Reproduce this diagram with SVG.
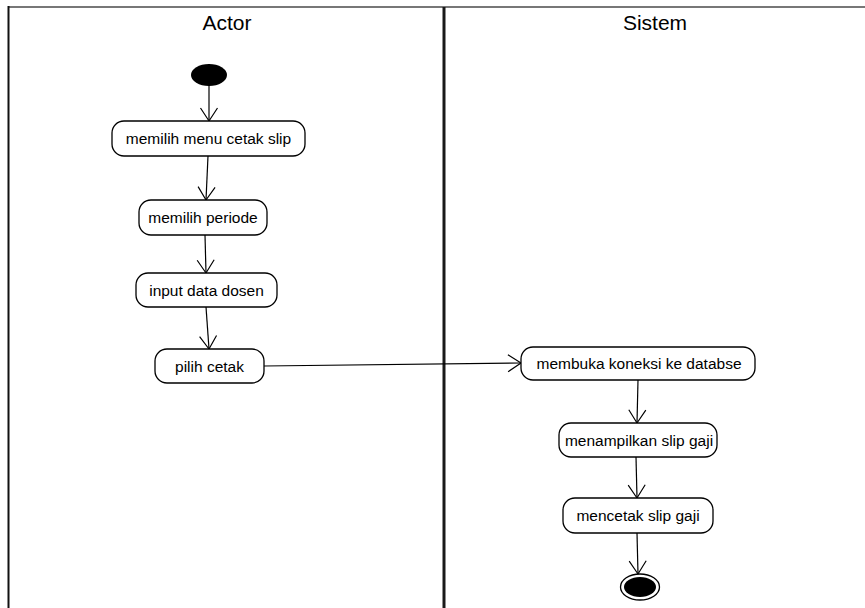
<svg xmlns="http://www.w3.org/2000/svg" width="865" height="608" viewBox="0 0 865 608">
  <style>
    .lane { font-family: "Liberation Sans", Arial, sans-serif; font-size: 21px; fill: #000; text-anchor: middle; }
    .act rect { fill: #fff; stroke: #000; stroke-width: 1.3; }
    .act text { font-family: "Liberation Sans", Arial, sans-serif; font-size: 15.5px; fill: #000; text-anchor: middle; }
    .flow line { stroke: #000; stroke-width: 1.2; fill: none; marker-end: url(#open); }
  </style>
  <defs>
    <marker id="open" markerUnits="userSpaceOnUse" markerWidth="30" markerHeight="30" refX="0" refY="0" viewBox="-15 -15 30 30" orient="auto" overflow="visible">
      <path d="M-13,-8.5 L0,0 L-13,8.5" fill="none" stroke="#000" stroke-width="1.2"/>
    </marker>
  </defs>
  <rect width="865" height="608" fill="#fff"/>

  <!-- swimlane frame -->
  <g id="lanes">
    <line x1="8" y1="7" x2="865" y2="7" stroke="#777" stroke-width="2"/>
    <line x1="8.5" y1="6" x2="8.5" y2="608" stroke="#111" stroke-width="2"/>
    <line x1="444" y1="7" x2="444" y2="608" stroke="#1a1a1a" stroke-width="3"/>
    <text class="lane" x="227" y="30">Actor</text>
    <text class="lane" x="655" y="30">Sistem</text>
  </g>

  <!-- connectors -->
  <g id="connectors" class="flow">
    <line x1="209" y1="86" x2="209" y2="121"/>
    <line x1="208" y1="156" x2="206" y2="200"/>
    <line x1="205" y1="235" x2="206" y2="273"/>
    <line x1="206" y1="307" x2="209" y2="349"/>
    <line x1="264" y1="366" x2="521" y2="363"/>
    <line x1="638" y1="380" x2="637" y2="423"/>
    <line x1="636" y1="457" x2="637" y2="498"/>
    <line x1="637" y1="533" x2="638" y2="574"/>
  </g>

  <g id="start">
    <ellipse cx="209" cy="75" rx="18" ry="11" fill="#000"/>
  </g>

  <g id="a1" class="act">
    <rect x="112" y="121" width="193" height="35" rx="12"/>
    <text x="208.5" y="144">memilih menu cetak slip</text>
  </g>
  <g id="a2" class="act">
    <rect x="139" y="200" width="128" height="35" rx="12"/>
    <text x="203" y="223">memilih periode</text>
  </g>
  <g id="a3" class="act">
    <rect x="136" y="273" width="141" height="34" rx="12"/>
    <text x="206.5" y="295.5">input data dosen</text>
  </g>
  <g id="a4" class="act">
    <rect x="155" y="349" width="109" height="34" rx="12"/>
    <text x="209.5" y="371.5">pilih cetak</text>
  </g>
  <g id="a5" class="act">
    <rect x="521" y="347" width="234" height="33" rx="12"/>
    <text x="639" y="369">membuka koneksi ke databse</text>
  </g>
  <g id="a6" class="act">
    <rect x="559" y="423" width="158" height="34" rx="12"/>
    <text x="639" y="445.5">menampilkan slip gaji</text>
  </g>
  <g id="a7" class="act">
    <rect x="563" y="498" width="150" height="35" rx="12"/>
    <text x="638" y="521">mencetak slip gaji</text>
  </g>

  <g id="end">
    <ellipse cx="640" cy="587" rx="19.5" ry="13" fill="#fff" stroke="#000" stroke-width="1.3"/>
    <ellipse cx="640" cy="587" rx="16" ry="10" fill="#000"/>
  </g>
</svg>
